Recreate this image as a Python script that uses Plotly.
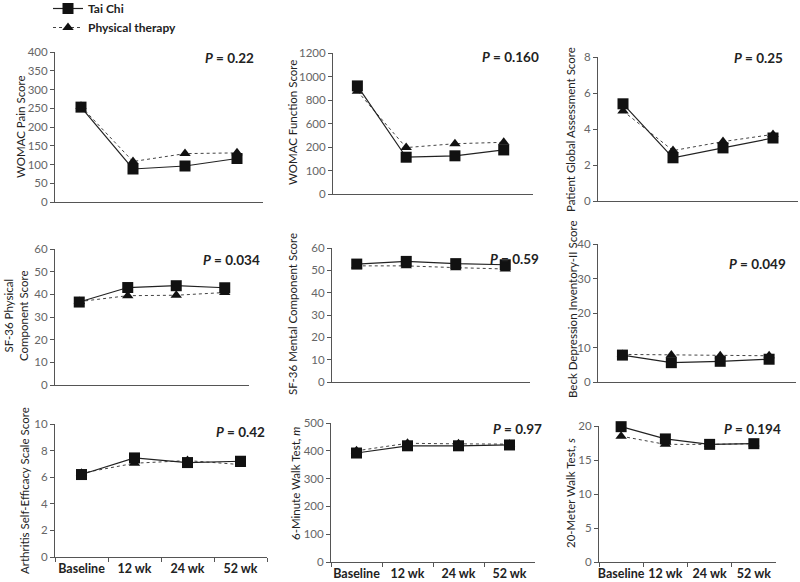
import plotly.graph_objects as go

cats = ["Baseline", "12 wk", "24 wk", "52 wk"]

pain_tc = [253, 88, 96, 116]
pain_pt = [255, 108, 129, 131]
func_tc = [920, 313, 325, 375]
func_pt = [875, 395, 428, 440]
pga_tc = [5.4, 2.4, 2.95, 3.5]
pga_pt = [5.0, 2.8, 3.3, 3.7]
pcs_tc = [36.6, 43.0, 43.8, 42.9]
pcs_pt = [36.8, 39.4, 39.6, 40.8]
mcs_tc = [52.8, 54.0, 53.0, 52.5]
mcs_pt = [52.0, 52.0, 51.2, 50.6]
bdi_tc = [7.8, 5.6, 6.0, 6.6]
bdi_pt = [8.0, 7.8, 7.6, 7.6]
ase_tc = [6.2, 7.45, 7.1, 7.2]
ase_pt = [6.3, 7.05, 7.25, 6.95]
walk6_tc = [392, 418, 418, 421]
walk6_pt = [400, 427, 425, 424]
walk20_tc = [19.9, 18.1, 17.3, 17.4]
walk20_pt = [18.5, 17.3, 17.3, 17.4]

titles = ["WOMAC Pain Score", "WOMAC Function Score", "Patient Global Assessment Score",
          "SF-36 Physical<br>Component Score", "SF-36 Mental Component Score",
          "Beck Depression Inventory-II Score", "Arthritis Self-Efficacy Scale Score",
          "6-Minute Walk Test, <i>m</i>", "20-Meter Walk Test, <i>s</i>"]
pvals = ["0.22", "0.160", "0.25", "0.034", "0.59", "0.049", "0.42", "0.97", "0.194"]
tickvals = [list(range(0, 401, 50)), list(range(0, 1201, 200)), [0, 2, 4, 6, 8],
            list(range(0, 61, 10)), list(range(0, 61, 10)), list(range(0, 41, 10)),
            [0, 2, 4, 6, 8, 10], list(range(0, 501, 100)), [0, 5, 10, 15, 20]]
ticktexts = [None, ["0", "100", "200", "600", "800", "1000", "1200"], None,
             None, None, None, None, None, None]
tc_data = [pain_tc, func_tc, pga_tc, pcs_tc, mcs_tc, bdi_tc, ase_tc, walk6_tc, walk20_tc]
pt_data = [pain_pt, func_pt, pga_pt, pcs_pt, mcs_pt, bdi_pt, ase_pt, walk6_pt, walk20_pt]

W, H = 800, 582
# pixel layout: (x0, x1, ytop, ybottom)
boxes = [(55, 263, 52, 202), (333, 533, 53, 194), (598, 798, 57, 201),
         (55, 249, 249, 385), (332, 530, 248, 382), (598, 796, 244, 382),
         (55, 267, 424, 557), (331, 535, 423, 562), (599, 776, 426, 562)]
xranges = [[-0.5, 3.5], [-0.5, 3.6], [-0.5, 3.5], [-0.5, 3.5], [-0.5, 3.5],
           [-0.5, 3.55], [-0.5, 3.5], [-0.5, 3.5], [-0.5, 3.5]]
title_pos = [(20, 127), (292, 123), (570, 130), (16, 316), (292, 314), (572, 309),
             (24, 491), (295, 484), (570, 493)]
p_pos = [(256, 58), (541, 57), (785, 58), (262, 260), (541, 259), (788, 264),
         (267, 432), (544, 429), (783, 429)]

FONT = "Lato"
fig = go.Figure()
annotations = []
layout = {}
for i in range(9):
    n = "" if i == 0 else str(i + 1)
    x0, x1, yt, yb = boxes[i]
    bottom = i >= 6
    fig.add_trace(go.Scatter(
        x=cats, y=pt_data[i], mode="lines+markers", name="Physical therapy",
        line=dict(color="#444", width=1, dash="dot"),
        marker=dict(symbol="triangle-up", size=10, color="#111"),
        xaxis="x" + n, yaxis="y" + n, showlegend=(i == 0), legendrank=2, cliponaxis=False))
    fig.add_trace(go.Scatter(
        x=cats, y=tc_data[i], mode="lines+markers", name="Tai Chi",
        line=dict(color="#222", width=1.2),
        marker=dict(symbol="square", size=11, color="#111"),
        xaxis="x" + n, yaxis="y" + n, showlegend=(i == 0), legendrank=1, cliponaxis=False))
    tv = tickvals[i]
    layout["xaxis" + n] = dict(
        domain=[x0 / W, x1 / W], anchor="y" + n, type="category",
        categoryorder="array", categoryarray=cats, range=xranges[i], automargin=False,
        showline=True, linecolor="#555", linewidth=1, showgrid=False, zeroline=False,
        ticks="outside" if bottom else "", tickson="boundaries", ticklen=4,
        tickcolor="#555", showticklabels=bottom, tickangle=0,
        tickfont=dict(family=FONT, size=12.5, color="#222", weight="bold"))
    layout["yaxis" + n] = dict(
        domain=[1 - yb / H, 1 - yt / H], anchor="x" + n, automargin=False,
        range=[0, tv[-1]], tickvals=tv, ticktext=ticktexts[i] if ticktexts[i] else [str(v) for v in tv],
        showline=True, linecolor="#555", linewidth=1, showgrid=False, zeroline=False,
        ticks="outside", ticklen=4, tickcolor="#555",
        tickfont=dict(family=FONT, size=11.5, color="#666"))
    tx, ty = title_pos[i]
    annotations.append(dict(
        text=titles[i], x=tx / W, y=1 - ty / H, xref="paper", yref="paper",
        textangle=-90, showarrow=False, xanchor="center", yanchor="middle",
        font=dict(family=FONT, size=11.5, color="#222")))
    px_, py_ = p_pos[i]
    annotations.append(dict(
        text="<i>P</i> = " + pvals[i], x=px_ / W, y=1 - py_ / H, xref="paper", yref="paper",
        showarrow=False, xanchor="right", yanchor="middle",
        font=dict(family=FONT, size=13.5, color="#222", weight="bold")))

fig.update_layout(
    template="none",
    width=W, height=H, autosize=False,
    margin=dict(l=0, r=0, t=0, b=0, pad=0, autoexpand=False),
    paper_bgcolor="white", plot_bgcolor="white",
    annotations=annotations,
    showlegend=True,
    legend=dict(x=48 / W, y=1 + 6 / H, xanchor="left", yanchor="top",
                bgcolor="rgba(0,0,0,0)", borderwidth=0,
                font=dict(family=FONT, size=12, color="#222", weight="bold"),
                itemwidth=30, tracegroupgap=0),
    **layout)

fig.write_html(
    "out.html",
    config={"displayModeBar": False},
    post_script="document.body.style.margin='0';document.body.style.overflow='hidden';")
